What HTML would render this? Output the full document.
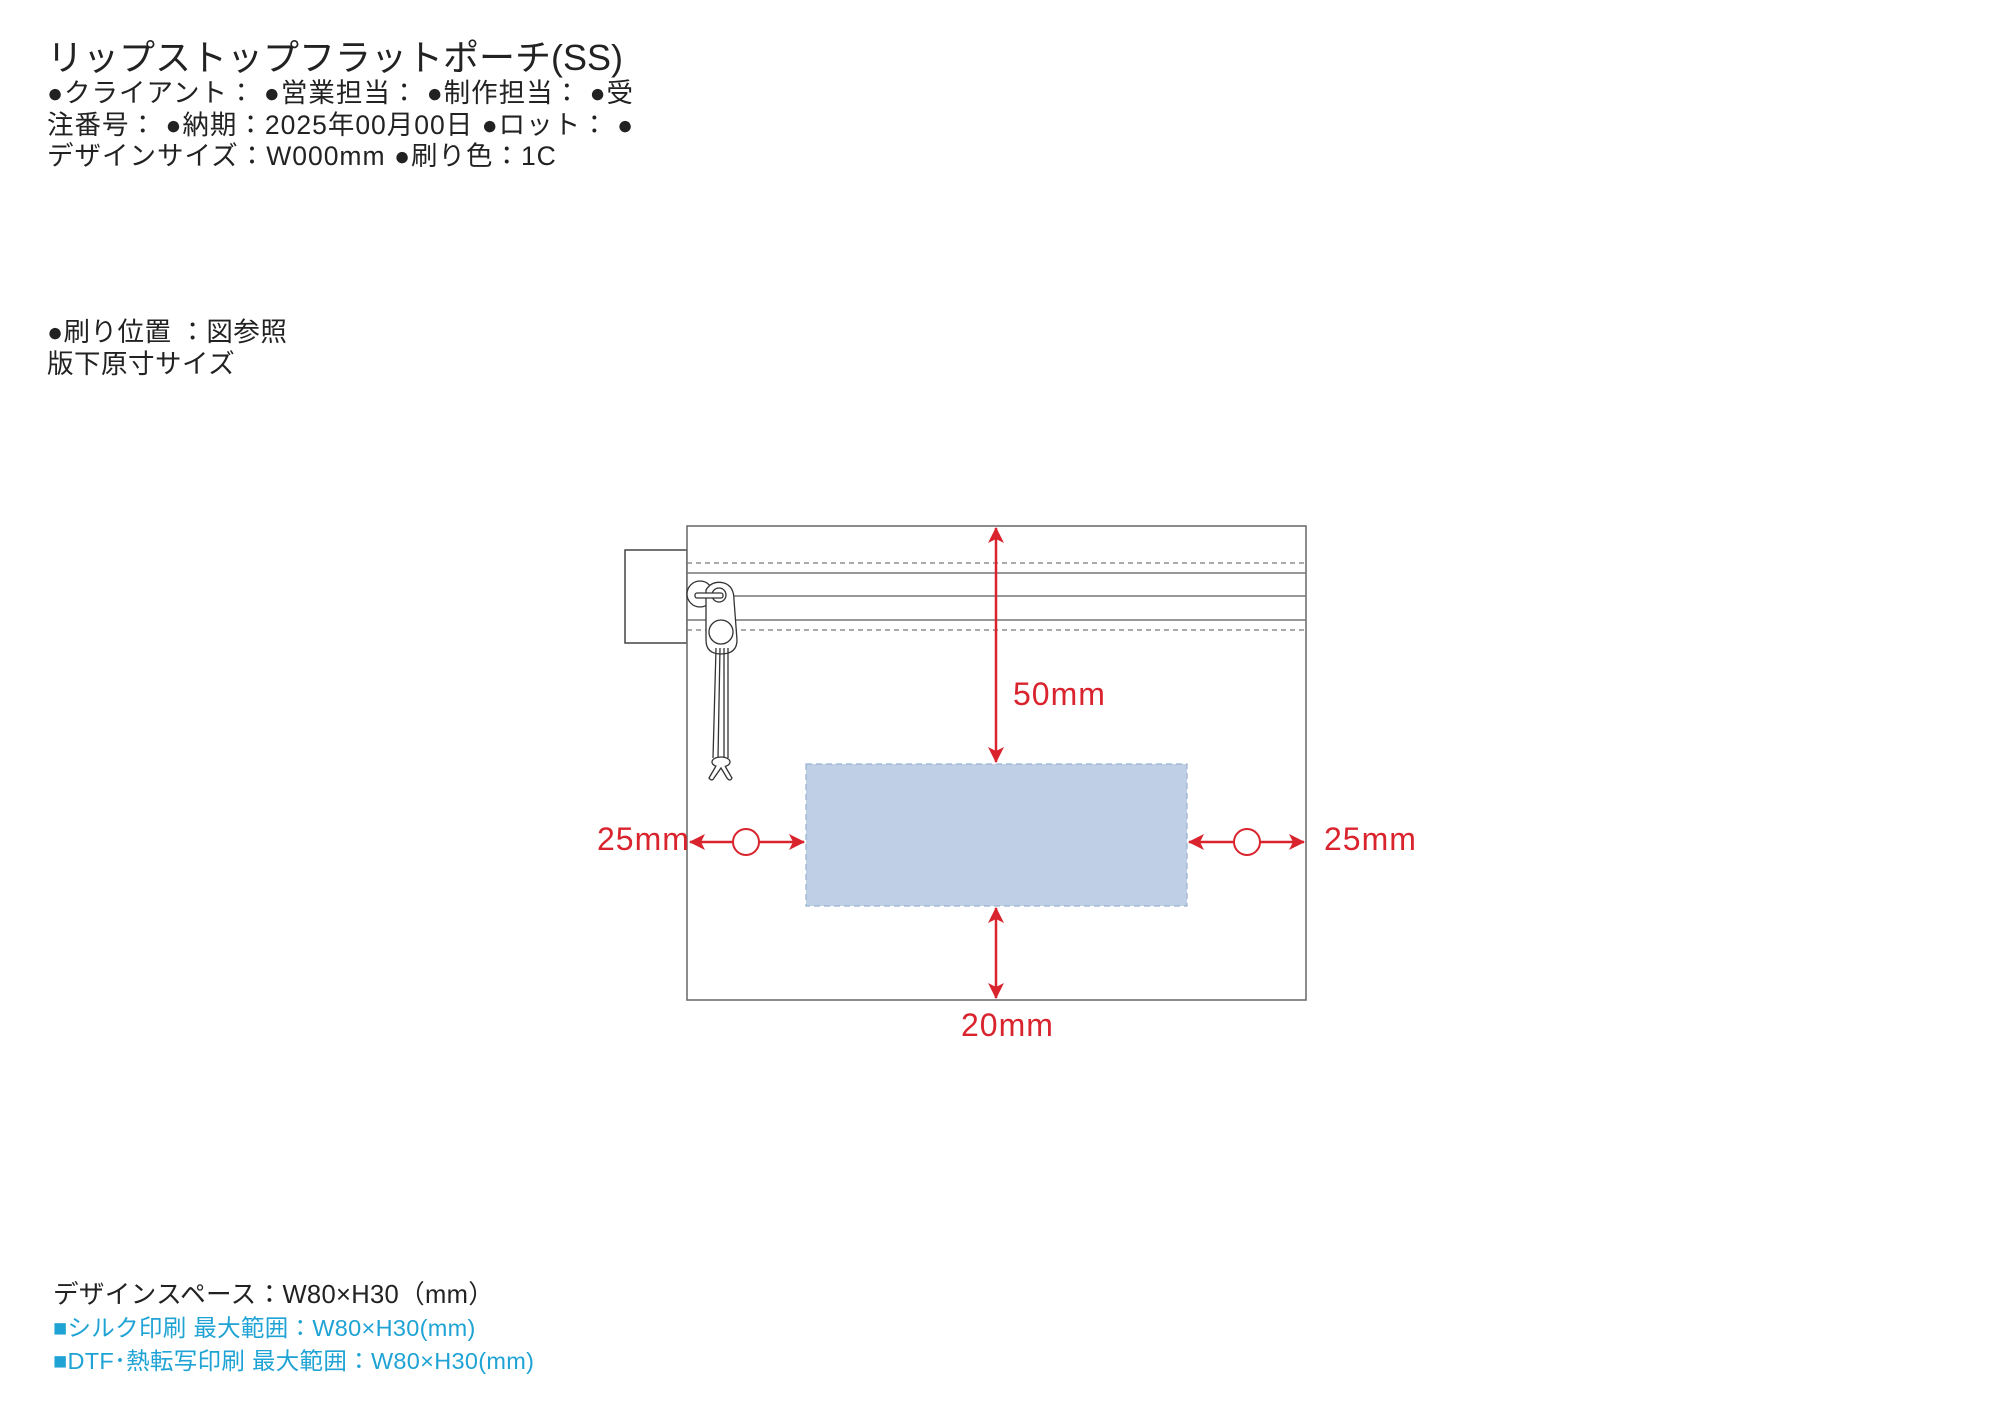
<!DOCTYPE html>
<html><head><meta charset="utf-8"><style>
body{margin:0;background:#fff;width:2000px;height:1414px;overflow:hidden;position:relative;font-family:"Liberation Sans","Noto Sans CJK JP",sans-serif;}
.t{position:absolute;white-space:nowrap;color:#222;}
</style></head><body>
<div class="t" style="left:47px;top:40px;font-size:36px;line-height:1;">リップストップフラットポーチ(SS)</div>
<div class="t" style="left:47px;top:78px;font-size:26.5px;line-height:31.5px;letter-spacing:1px;">●クライアント： ●営業担当： ●制作担当： ●受<br>注番号： ●納期：2025年00月00日 ●ロット： ●<br>デザインサイズ：W000mm ●刷り色：1C</div>
<div class="t" style="left:47px;top:316px;font-size:26.5px;line-height:32px;letter-spacing:0.5px;">●刷り位置 ：図参照<br>版下原寸サイズ</div>
<div class="t" style="left:53px;top:1279px;font-size:25.6px;line-height:33px;letter-spacing:0.3px;">デザインスペース：W80×H30（mm）<br><span style="color:#1fa3d4;font-size:23.5px">■シルク印刷 最大範囲：W80×H30(mm)</span><br><span style="color:#1fa3d4;font-size:23.5px">■DTF･熱転写印刷 最大範囲：W80×H30(mm)</span></div>
<svg width="2000" height="1414" style="position:absolute;left:0;top:0" xmlns="http://www.w3.org/2000/svg">
<defs>
<marker id="b" markerWidth="16" markerHeight="16" refX="15" refY="8" orient="auto-start-reverse" markerUnits="userSpaceOnUse"><path d="M0,0 L16,8 L0,16 L4,8z" fill="#d9232d"/></marker></defs>
<rect x="625" y="550" width="62" height="93" fill="#fff" stroke="#444" stroke-width="1.5"/>
<rect x="687" y="526" width="619" height="474" fill="#fff" stroke="#666" stroke-width="1.5"/>
<line x1="687" y1="563" x2="1306" y2="563" stroke="#777" stroke-width="1.2" stroke-dasharray="5,4"/>
<line x1="687" y1="573" x2="1306" y2="573" stroke="#777" stroke-width="1.5"/>
<line x1="687" y1="596" x2="1306" y2="596" stroke="#777" stroke-width="1.5"/>
<line x1="687" y1="620" x2="1306" y2="620" stroke="#777" stroke-width="1.5"/>
<line x1="687" y1="630" x2="1306" y2="630" stroke="#777" stroke-width="1.2" stroke-dasharray="5,4"/>
<rect x="806" y="764" width="381" height="142" fill="#bfcfe6" stroke="#9ab0cf" stroke-width="1.2" stroke-dasharray="6,4"/>
<g fill="#fff" stroke="#333" stroke-width="1.3">
<circle cx="700" cy="594" r="13"/>
<path d="M706,590 Q712,580 724,583 Q734,586 734,600 L737,640 Q737,654 721,654 Q706,654 706,640 Z"/>
<circle cx="719" cy="595" r="7"/>
<rect x="695" y="593" width="28" height="5" rx="2"/>
<circle cx="721" cy="632" r="12"/>
<path d="M716,648 L713,758 M720,648 L718,758 M724,648 L724,758 M728,648 L728,758"/>
<ellipse cx="721" cy="762" rx="9" ry="5"/>
<path d="M716,766 L709,778 Q712,782 714,778 L721,768 L727,778 Q730,782 732,778 L725,766"/>
</g>
<g stroke="#d9232d" stroke-width="2.5" fill="none">
<line x1="996" y1="528" x2="996" y2="762" marker-start="url(#b)" marker-end="url(#b)"/>
<line x1="996" y1="908" x2="996" y2="998" marker-start="url(#b)" marker-end="url(#b)"/>
<line x1="690" y1="842" x2="804" y2="842" marker-start="url(#b)" marker-end="url(#b)"/>
<line x1="1189" y1="842" x2="1304" y2="842" marker-start="url(#b)" marker-end="url(#b)"/>
<ellipse cx="746" cy="842" rx="13" ry="13" fill="#fff" stroke-width="2"/>
<ellipse cx="1247" cy="842" rx="13" ry="13" fill="#fff" stroke-width="2"/>
</g>
<g fill="#d9232d" font-family="Liberation Sans, sans-serif" font-size="32" letter-spacing="1">
<text x="1013" y="705">50mm</text>
<text x="597" y="850">25mm</text>
<text x="1324" y="850">25mm</text>
<text x="961" y="1036">20mm</text>
</g>
</svg>
</body></html>
